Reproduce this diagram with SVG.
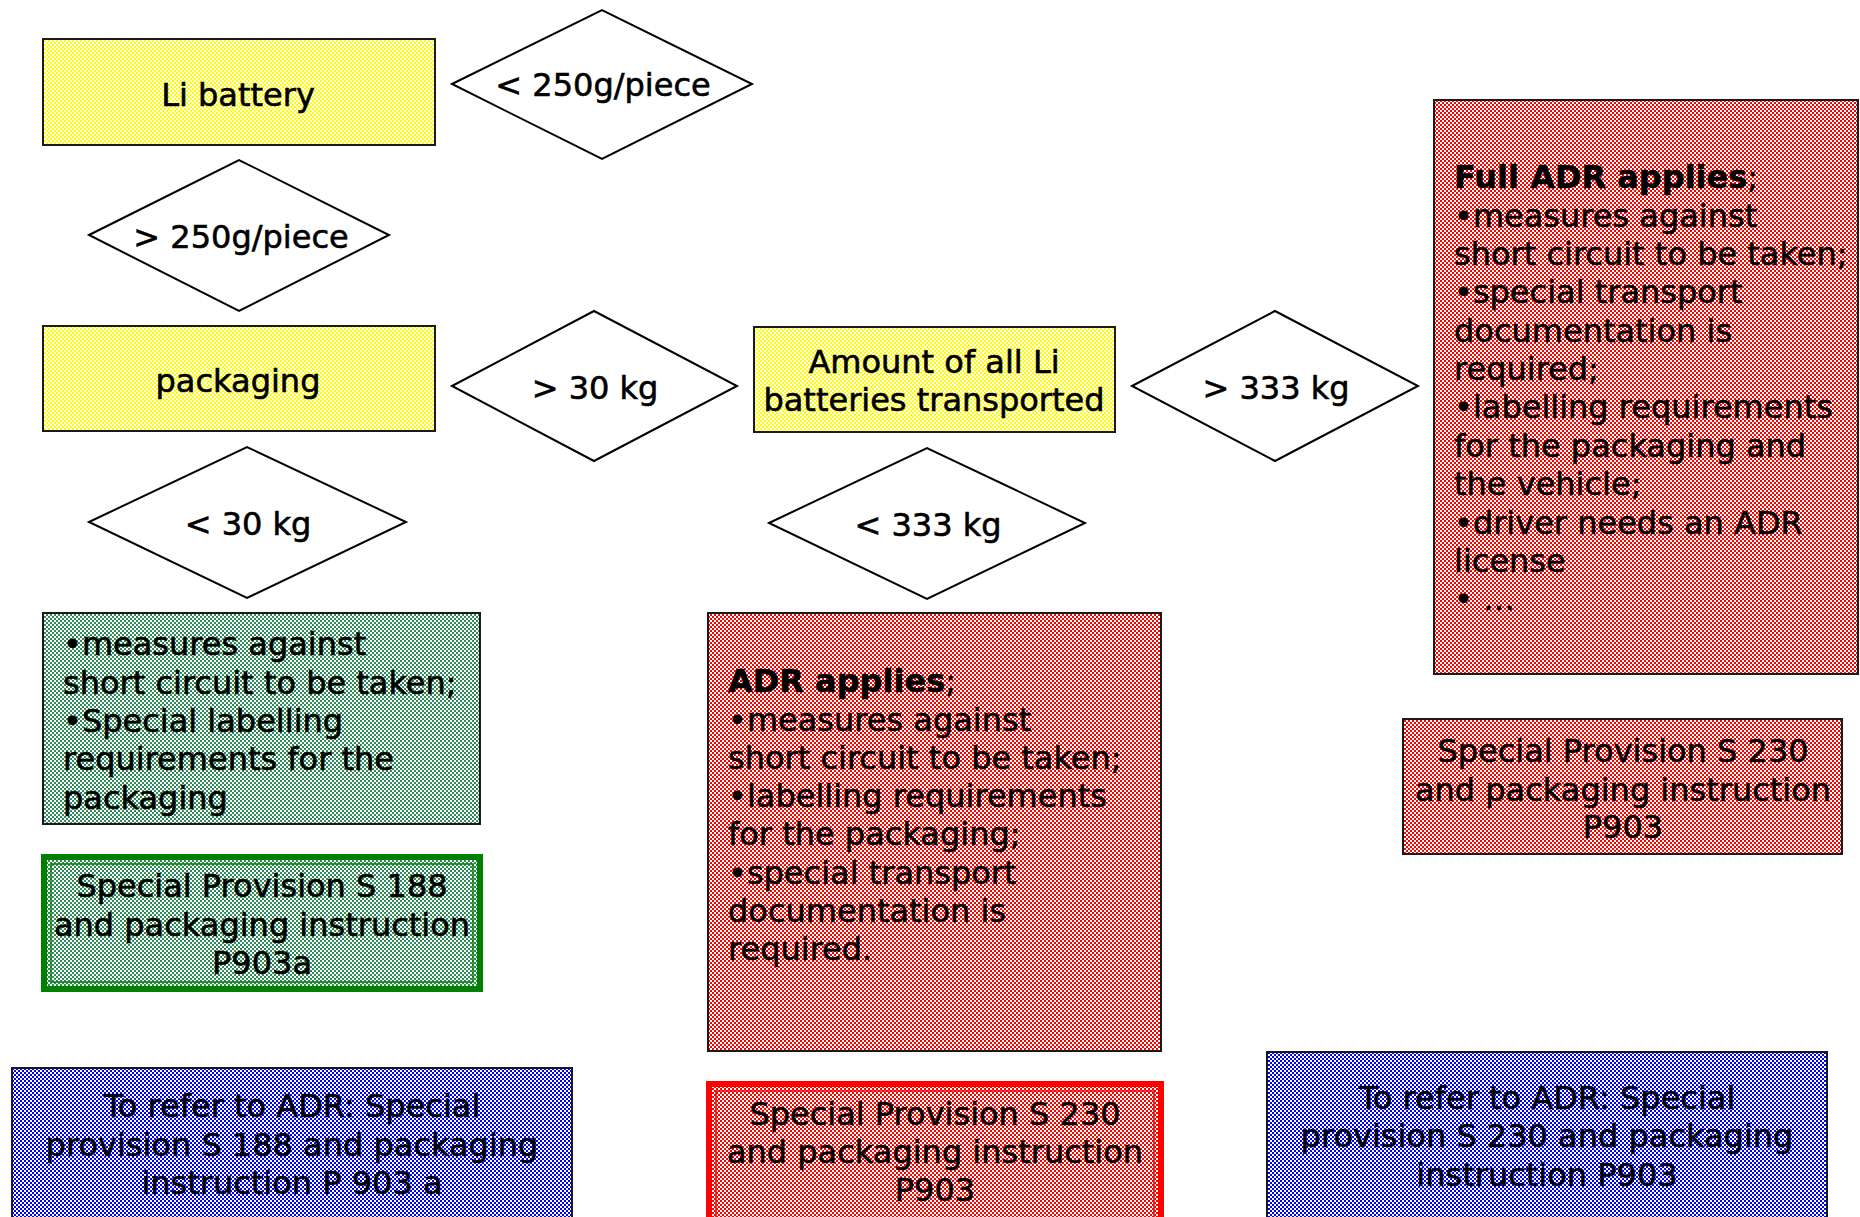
<svg xmlns="http://www.w3.org/2000/svg" width="1860" height="1217" viewBox="0 0 1860 1217">
<defs>
<pattern id="pY" width="4" height="4" patternUnits="userSpaceOnUse"><rect width="4" height="4" fill="#fff"/><rect width="2" height="2" fill="#ffff00"/><rect x="2" y="2" width="2" height="2" fill="#ffff00"/></pattern>
<pattern id="pG" width="4" height="4" patternUnits="userSpaceOnUse"><rect width="4" height="4" fill="#fff"/><rect width="2" height="2" fill="#2e8b57"/><rect x="2" y="2" width="2" height="2" fill="#2e8b57"/></pattern>
<pattern id="pR" width="4" height="4" patternUnits="userSpaceOnUse"><rect width="4" height="4" fill="#fff"/><rect width="2" height="2" fill="#ff0000"/><rect x="2" y="2" width="2" height="2" fill="#ff0000"/></pattern>
<pattern id="pB" width="4" height="4" patternUnits="userSpaceOnUse"><rect width="4" height="4" fill="#fff"/><rect width="2" height="2" fill="#0000ff"/><rect x="2" y="2" width="2" height="2" fill="#0000ff"/></pattern>
</defs>
<style>
text{font-family:"DejaVu Sans","Verdana",sans-serif;font-size:32px;fill:#000;stroke:#000;stroke-width:0.6px}
.c{text-anchor:middle}
.b{font-weight:bold}
.box{stroke:#1a1a1a;stroke-width:2}
.dia{fill:#fff;stroke:#000;stroke-width:2}
</style>
<rect width="1860" height="1217" fill="#fff"/>
<g id="connectors"/>

<g id="li-battery"><rect class="box" x="43" y="39" width="392" height="106" fill="url(#pY)"/><text class="c" x="238" y="106">Li battery</text></g>
<g id="lt250"><polygon class="dia" points="452,84 602,10 752,84 602,159"/><text class="c" x="603" y="96">&lt; 250g/piece</text></g>
<g id="gt250"><polygon class="dia" points="89,235 239,160 389,235 239,311"/><text class="c" x="241" y="248">&gt; 250g/piece</text></g>
<g id="packaging"><rect class="box" x="43" y="326" width="392" height="105" fill="url(#pY)"/><text class="c" x="238" y="392">packaging</text></g>
<g id="gt30"><polygon class="dia" points="452,386 594,311 737,386 594,461"/><text class="c" x="595" y="399">&gt; 30 kg</text></g>
<g id="amount"><rect class="box" x="754" y="327" width="361" height="105" fill="url(#pY)"/><text class="c" x="934"><tspan x="934" y="373">Amount of all Li</tspan><tspan x="934" y="411">batteries transported</tspan></text></g>
<g id="gt333"><polygon class="dia" points="1132,386 1275,311 1418,386 1275,461"/><text class="c" x="1276" y="399">&gt; 333 kg</text></g>
<g id="lt30"><polygon class="dia" points="89,522 247,447 406,522 247,598"/><text class="c" x="248" y="535">&lt; 30 kg</text></g>
<g id="lt333"><polygon class="dia" points="769,523 927,448 1085,523 927,599"/><text class="c" x="928" y="536">&lt; 333 kg</text></g>

<g id="full-adr"><rect class="box" x="1434" y="100" width="424" height="574" fill="url(#pR)"/>
<text x="1454"><tspan x="1454" y="188" class="b">Full ADR applies</tspan><tspan>;</tspan><tspan x="1454" y="227">•measures against</tspan><tspan x="1454" y="265">short circuit to be taken;</tspan><tspan x="1454" y="303">•special transport</tspan><tspan x="1454" y="342">documentation is</tspan><tspan x="1454" y="380">required;</tspan><tspan x="1454" y="418">•labelling requirements</tspan><tspan x="1454" y="457">for the packaging and</tspan><tspan x="1454" y="495">the vehicle;</tspan><tspan x="1454" y="534">•driver needs an ADR</tspan><tspan x="1454" y="572">license</tspan><tspan x="1454" y="610">• …</tspan></text></g>

<g id="green-measures"><rect class="box" x="43" y="613" width="437" height="211" fill="url(#pG)"/>
<text x="63"><tspan x="63" y="655">•measures against</tspan><tspan x="63" y="694">short circuit to be taken;</tspan><tspan x="63" y="732">•Special labelling</tspan><tspan x="63" y="770">requirements for the</tspan><tspan x="63" y="809">packaging</tspan></text></g>

<g id="sp188"><rect x="44" y="857" width="436" height="132" fill="url(#pG)" stroke="#008000" stroke-width="6"/><rect x="51" y="864" width="422" height="118" fill="none" stroke="#008000" stroke-width="1.5"/>
<text class="c"><tspan x="262" y="897">Special Provision S 188</tspan><tspan x="262" y="936">and packaging instruction</tspan><tspan x="262" y="974">P903a</tspan></text></g>

<g id="adr-applies"><rect class="box" x="708" y="613" width="453" height="438" fill="url(#pR)"/>
<text x="728"><tspan x="728" y="692" class="b">ADR applies</tspan><tspan>;</tspan><tspan x="728" y="731">•measures against</tspan><tspan x="728" y="769">short circuit to be taken;</tspan><tspan x="728" y="807">•labelling requirements</tspan><tspan x="728" y="845">for the packaging;</tspan><tspan x="728" y="884">•special transport</tspan><tspan x="728" y="922">documentation is</tspan><tspan x="728" y="960">required.</tspan></text></g>

<g id="sp230-right"><rect class="box" x="1403" y="719" width="439" height="135" fill="url(#pR)"/>
<text class="c"><tspan x="1623" y="762">Special Provision S 230</tspan><tspan x="1623" y="801">and packaging instruction</tspan><tspan x="1623" y="838">P903</tspan></text></g>

<g id="sp230-center"><rect x="709" y="1084" width="452" height="140" fill="url(#pR)" stroke="#ff0000" stroke-width="6"/><rect x="716" y="1091" width="438" height="130" fill="none" stroke="#ff0000" stroke-width="1.5"/>
<text class="c"><tspan x="935" y="1125">Special Provision S 230</tspan><tspan x="935" y="1163">and packaging instruction</tspan><tspan x="935" y="1201">P903</tspan></text></g>

<g id="refer-188"><rect class="box" x="12" y="1068" width="560" height="160" fill="url(#pB)"/>
<text class="c"><tspan x="292" y="1117">To refer to ADR: Special</tspan><tspan x="292" y="1156">provision S 188 and packaging</tspan><tspan x="292" y="1194">instruction P 903 a</tspan></text></g>

<g id="refer-230"><rect class="box" x="1267" y="1052" width="560" height="176" fill="url(#pB)"/>
<text class="c"><tspan x="1547" y="1109">To refer to ADR: Special</tspan><tspan x="1547" y="1147">provision S 230 and packaging</tspan><tspan x="1547" y="1186">instruction P903</tspan></text></g>
</svg>
